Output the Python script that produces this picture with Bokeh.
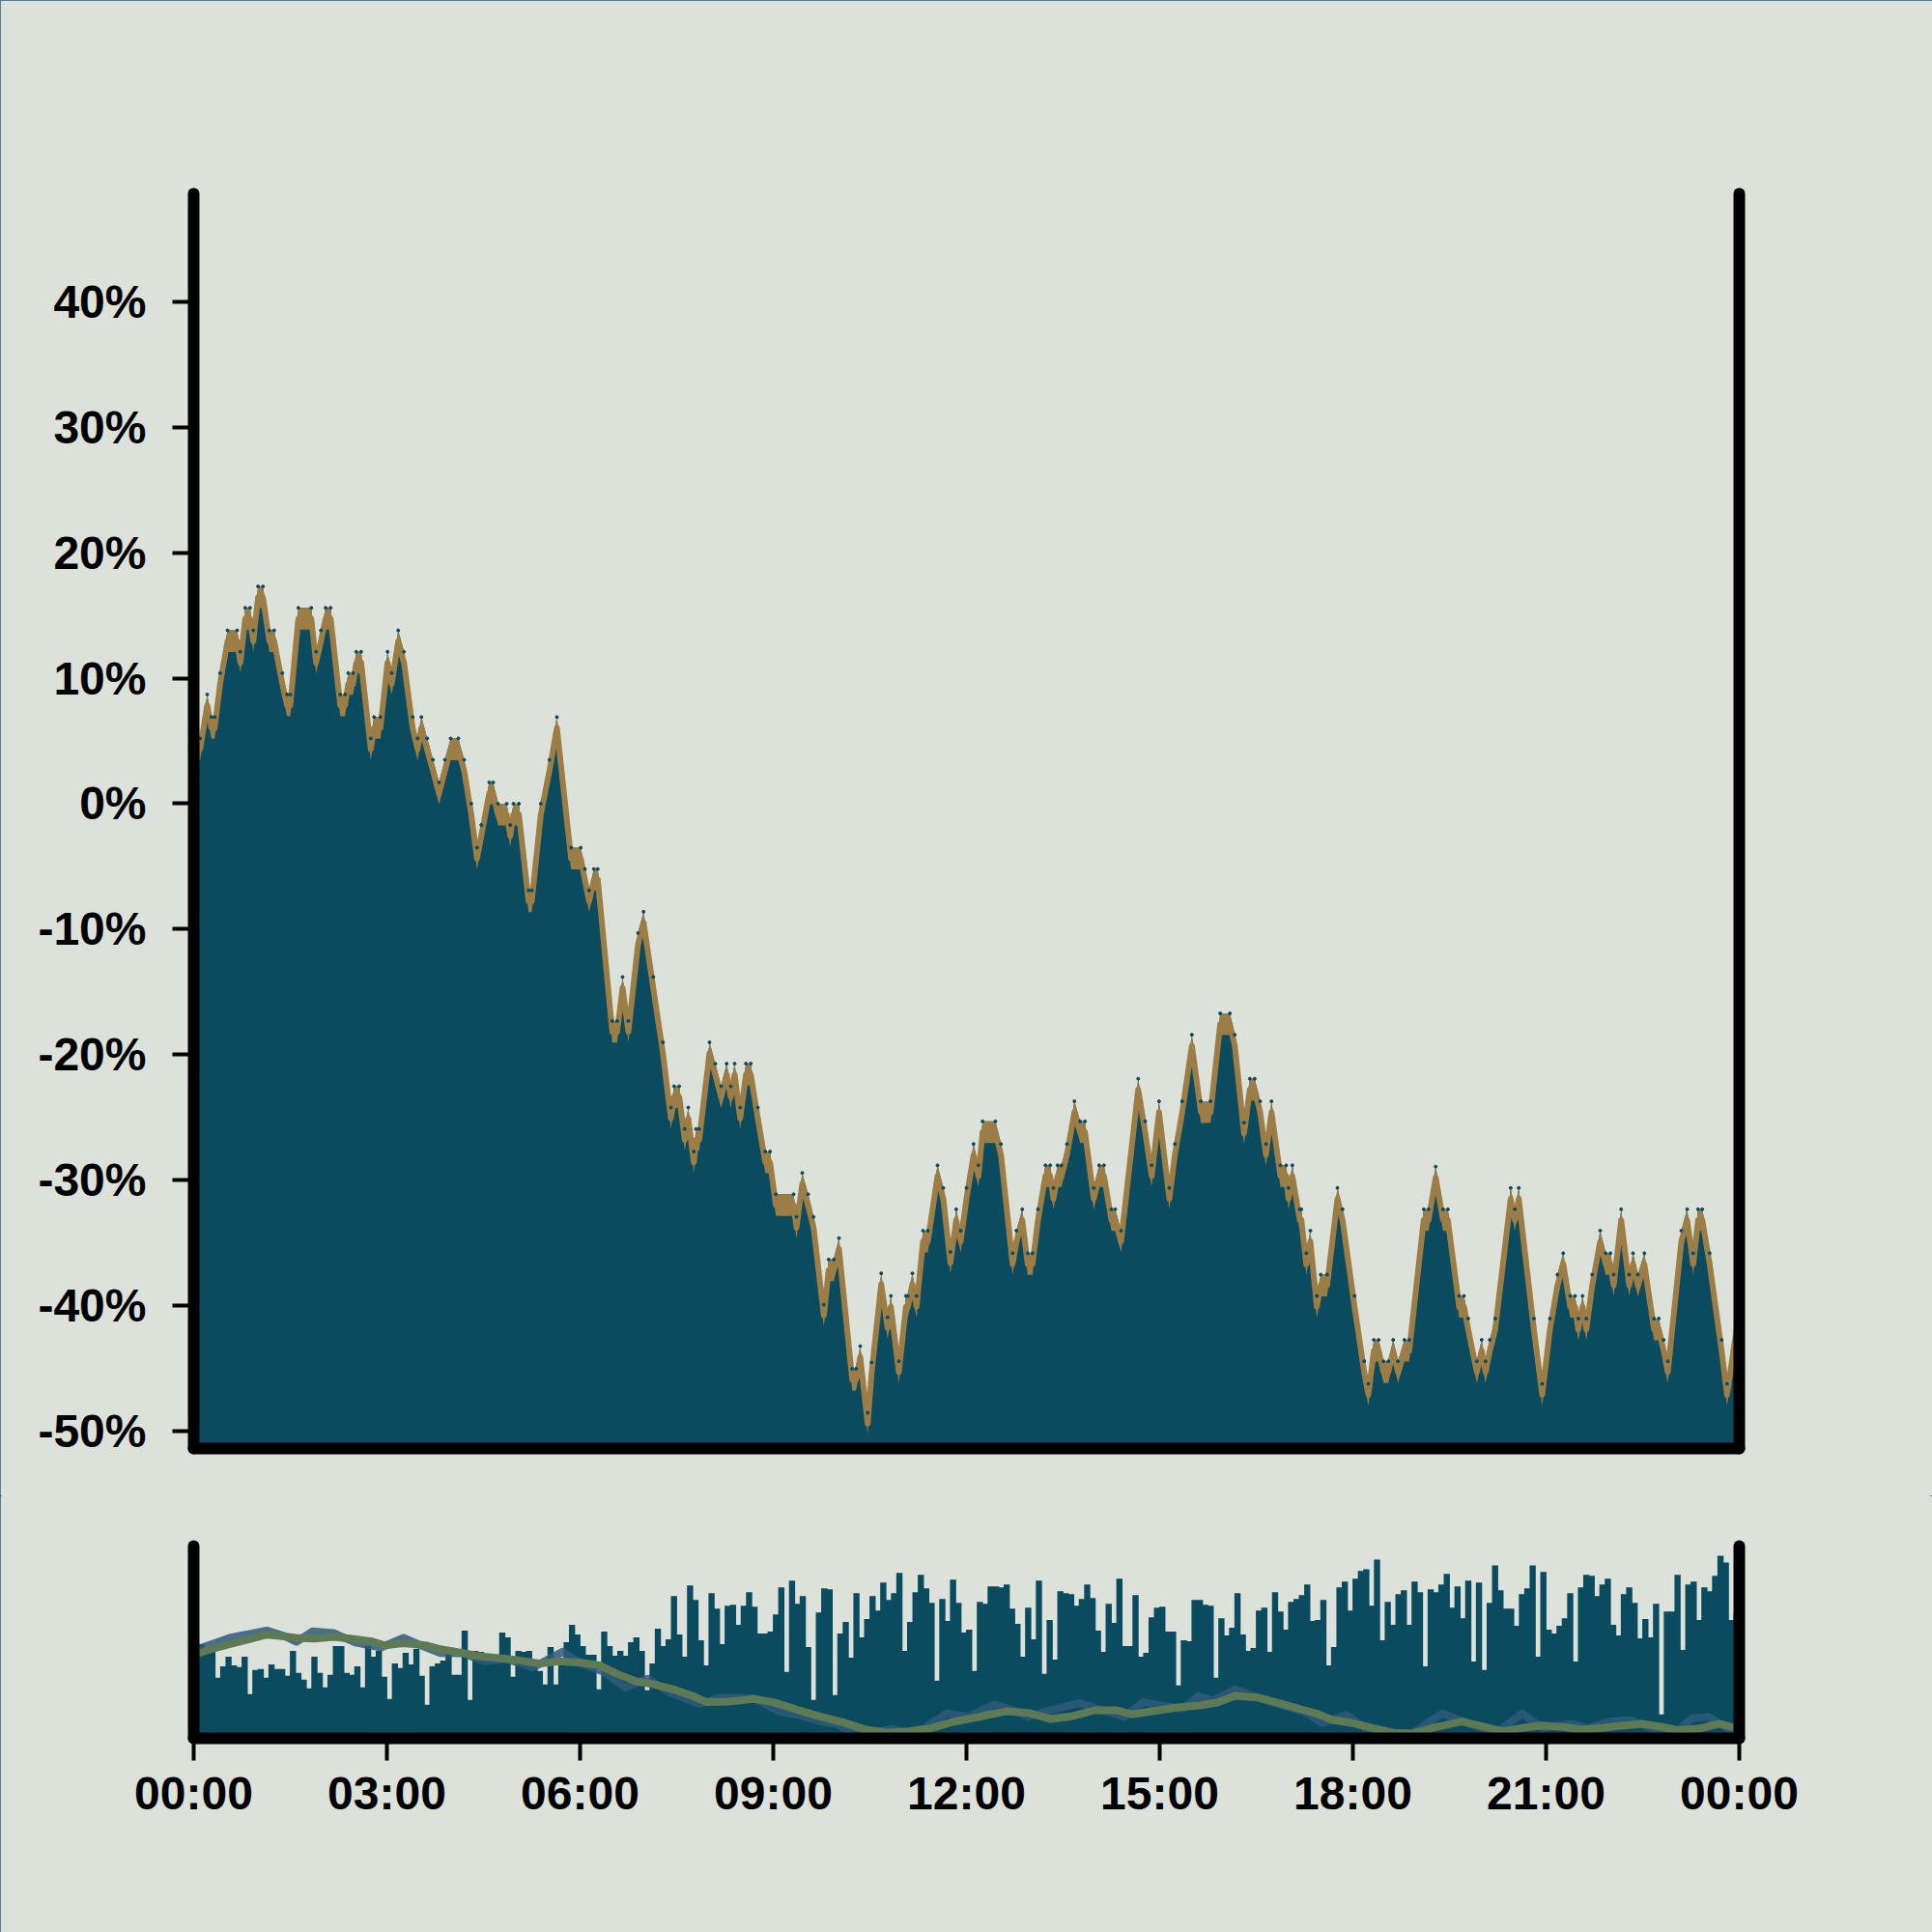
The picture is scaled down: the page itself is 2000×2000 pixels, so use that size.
from bokeh.plotting import figure
from bokeh.layouts import column
from bokeh.models import Range1d, LinearAxis, FixedTicker
from bokeh.embed import file_html
from bokeh.resources import INLINE

# ---------------- data ----------------
# main series: vertices of the polyline (time in hours, change in %)
price_t = [0, 0.1, 0.21, 0.275, 0.326, 0.41, 0.525, 0.675, 0.725, 0.8, 0.875, 0.926, 1.0, 1.076, 1.175, 1.25,
           1.376, 1.45, 1.5, 1.625, 1.826, 1.9, 1.976, 2.05, 2.126, 2.276, 2.35, 2.4, 2.475, 2.525, 2.6, 2.75,
           2.8, 2.9, 3.01, 3.075, 3.176, 3.266, 3.4, 3.476, 3.536, 3.626, 3.716, 3.81, 3.9, 3.99, 4.11, 4.2,
           4.31, 4.4, 4.466, 4.59, 4.65, 4.725, 4.86, 4.916, 4.965, 5.05, 5.2, 5.25, 5.39, 5.525, 5.64, 5.86,
           6.01, 6.075, 6.14, 6.215, 6.275, 6.5, 6.575, 6.66, 6.75, 6.9, 6.986, 7.136, 7.286, 7.41, 7.46, 7.54,
           7.625, 7.68, 7.766, 7.8, 7.85, 8.01, 8.1, 8.19, 8.276, 8.34, 8.4, 8.486, 8.576, 8.65, 8.76, 8.876,
           8.95, 9.04, 9.315, 9.36, 9.45, 9.54, 9.626, 9.785, 9.86, 9.94, 10.02, 10.226, 10.286, 10.35, 10.466,
           10.526, 10.676, 10.775, 10.826, 10.95, 11.06, 11.09, 11.16, 11.225, 11.325, 11.4, 11.55, 11.64,
           11.75, 11.84, 11.91, 12.0, 12.11, 12.185, 12.25, 12.45, 12.536, 12.716, 12.776, 12.866, 12.95,
           13.025, 13.11, 13.226, 13.3, 13.35, 13.415, 13.475, 13.56, 13.676, 13.766, 13.84, 13.976, 14.06,
           14.135, 14.25, 14.31, 14.4, 14.666, 14.775, 14.876, 14.99, 15.15, 15.236, 15.35, 15.5, 15.64, 15.79,
           15.94, 16.09, 16.166, 16.31, 16.4, 16.475, 16.56, 16.65, 16.736, 16.875, 16.965, 17.0, 17.06,
           17.175, 17.2, 17.276, 17.34, 17.44, 17.5, 17.6, 17.76, 17.84, 18.026, 18.176, 18.24, 18.326, 18.4,
           18.476, 18.55, 18.626, 18.7, 18.8, 18.875, 19.1, 19.175, 19.286, 19.4, 19.475, 19.65, 19.725, 19.79,
           19.925, 20.0, 20.06, 20.126, 20.21, 20.45, 20.516, 20.576, 20.81, 20.94, 21.06, 21.176, 21.266,
           21.375, 21.45, 21.5, 21.566, 21.626, 21.716, 21.84, 21.926, 22.0, 22.05, 22.166, 22.29, 22.35,
           22.425, 22.526, 22.676, 22.75, 22.826, 22.89, 23.1, 23.19, 23.285, 23.36, 23.426, 23.54, 23.726,
           23.81, 24.0]
price_v = [5.2, 5.2, 8.7, 6.9, 6.9, 10.4, 13.8, 13.8, 12.1, 15.6, 15.6, 13.8, 17.3, 17.3, 13.8, 13.8,
           10.4, 8.7, 8.7, 15.6, 15.6, 12.1, 13.8, 15.6, 15.6, 8.7, 8.7, 10.4, 10.4, 12.1, 12.1, 5.2,
           6.9, 6.9, 12.1, 10.4, 13.8, 12.1, 6.9, 5.2, 6.9, 5.2, 3.5, 1.7, 3.5, 5.2, 5.2, 3.5,
           0.0, -3.5, -1.7, 1.7, 1.7, 0.0, 0.0, -1.7, 0.0, 0.0, -6.9, -6.9, 0.0, 3.5, 6.9, -3.5,
           -3.5, -5.2, -6.9, -5.2, -5.2, -17.3, -17.3, -13.8, -17.3, -10.3, -8.6, -13.8, -19.0, -24.2, -22.5, -22.5,
           -25.9, -24.2, -27.7, -25.9, -25.9, -19.0, -20.7, -22.5, -20.7, -22.5, -20.7, -24.2, -20.7, -20.7, -24.2, -27.7,
           -27.7, -31.1, -31.1, -32.9, -29.4, -31.1, -32.9, -39.9, -36.3, -36.3, -34.6, -45.0, -45.0, -43.2, -48.5,
           -44.5, -37.4, -40.9, -39.2, -44.4, -39.2, -39.2, -37.4, -39.2, -34.0, -34.0, -28.8, -30.6,
           -35.7, -32.3, -34.0, -30.6, -27.1, -28.8, -25.3, -25.3, -27.1, -35.8, -34.0, -32.3, -35.8,
           -35.8, -32.3, -28.8, -28.8, -30.6, -28.8, -28.8, -27.1, -23.7, -25.3, -25.3, -30.6, -28.8,
           -28.8, -32.3, -32.3, -34.0, -21.9, -25.3, -28.8, -23.7, -30.6, -27.1, -23.7, -18.4, -23.7, -23.7,
           -16.7, -16.7, -18.4, -25.4, -21.9, -21.9, -23.7, -27.1, -23.7, -28.8, -28.8, -30.6, -28.8,
           -32.3, -32.3, -35.8, -34.0, -39.2, -37.5, -37.5, -30.6, -32.3, -39.2, -44.4, -46.2, -42.7, -42.7,
           -44.4, -44.4, -42.7, -44.4, -42.7, -42.7, -32.3, -32.3, -28.9, -32.3, -32.3, -39.2, -39.2, -41.0,
           -44.4, -42.7, -44.4, -42.7, -41.0, -30.6, -32.3, -30.6, -41.0, -46.2, -41.0, -37.5, -35.8,
           -39.2, -39.2, -41.0, -39.2, -41.0, -37.5, -34.0, -35.8, -35.8, -37.5, -32.3, -37.5, -35.8,
           -37.5, -35.8, -41.0, -41.0, -42.7, -44.4, -34.0, -32.3, -35.8, -32.3, -32.3, -35.8, -42.7,
           -46.2, -39.5]

# volume bars, one per 5-minute slot
vol_h = [98, 98, 93, 93, 63, 75, 85, 76, 74, 85,
         46, 71, 72, 63, 77, 72, 72, 65, 91, 68,
         61, 52, 85, 68, 53, 66, 96, 96, 68, 66,
         75, 53, 96, 85, 91, 64, 41, 78, 73, 89,
         77, 93, 65, 35, 75, 78, 81, 90, 66, 66,
         112, 40, 91, 90, 81, 86, 81, 110, 105, 64,
         91, 90, 91, 78, 70, 56, 95, 56, 76, 100,
         118, 108, 96, 87, 87, 51, 111, 96, 86, 91,
         86, 100, 105, 91, 50, 78, 114, 96, 103, 148,
         108, 85, 159, 144, 102, 76, 151, 135, 98, 138,
         139, 118, 138, 152, 137, 109, 109, 111, 129, 157,
         69, 164, 140, 148, 95, 40, 131, 156, 155, 45,
         109, 121, 84, 151, 105, 124, 148, 133, 162, 144,
         151, 172, 91, 121, 152, 170, 156, 141, 60, 145,
         122, 165, 141, 110, 113, 70, 142, 140, 158, 158,
         157, 160, 135, 119, 85, 136, 103, 164, 67, 123,
         82, 153, 151, 150, 138, 145, 160, 146, 112, 90,
         140, 120, 166, 96, 96, 149, 85, 89, 126, 136,
         137, 111, 111, 55, 102, 101, 144, 144, 139, 138,
         63, 125, 107, 115, 151, 108, 91, 94, 133, 136,
         90, 152, 132, 113, 142, 145, 149, 160, 122, 123,
         144, 76, 95, 157, 163, 133, 166, 174, 176, 138,
         186, 102, 142, 118, 150, 154, 118, 163, 152, 75,
         155, 152, 160, 171, 136, 158, 125, 164, 80, 162,
         71, 141, 180, 154, 135, 135, 117, 150, 156, 180,
         85, 173, 113, 109, 117, 125, 151, 80, 157, 170,
         169, 148, 160, 166, 118, 107, 150, 157, 141, 104,
         124, 105, 140, 25, 132, 132, 170, 92, 160, 163,
         123, 157, 153, 169, 190, 183, 123, 130]
slot_hours = 5 / 60
vol_t = [i * slot_hours for i in range(len(vol_h))]

# smoothed series in the lower panel (hours, %)
green_t = [0.09, 0.27, 0.555, 0.85, 1.135, 1.305, 1.59, 1.875, 2.17, 2.455, 2.745, 2.97, 3.255, 3.6, 3.83,
           4.18, 4.46, 4.75, 5.04, 5.385, 5.67, 6.015, 6.3, 6.585, 6.87, 7.16, 7.45, 7.74, 7.965, 8.31, 8.7,
           9.0, 9.4, 9.74, 10.09, 10.43, 10.78, 11.12, 11.46, 11.81, 12.15, 12.61, 12.96, 13.3, 13.65, 13.99,
           14.34, 14.565, 14.91, 15.255, 15.6, 15.885, 16.17, 16.515, 16.86, 17.25, 17.43, 17.685, 18.0,
           18.31, 18.615, 18.93, 19.29, 19.70, 20.01, 20.32, 20.63, 20.94, 21.25, 21.56, 21.87, 22.18,
           22.49, 22.8, 23.055, 23.37, 23.68, 23.89]
green_v = [4.45, 6.7, 9.6, 12.5, 15.3, 14.7, 13.4, 13.0, 14.0, 12.9, 11.5, 9.0, 10.2, 9.0, 6.7,
           4.4, 2.4, 1.4, 0.1, -1.8, -0.5, -1.3, -2.8, -8.1, -12.3, -14.2, -17.1, -20.9, -24.7, -24.3, -22.8,
           -24.7, -29.5, -33.3, -36.75, -40.9, -42.8, -41.9, -40.0, -36.2, -33.7, -30.1, -31.0, -34.6, -32.9, -29.5,
           -29.5, -31.9, -29.9, -27.9, -26.6, -25.1, -20.9, -21.9, -25.3, -29.5, -31.4, -35.2, -37.1,
           -40.0, -42.8, -43.2, -39.4, -36.2, -39.0, -41.9, -40.0, -38.5, -39.4, -40.9, -40.0, -38.6,
           -37.5, -39.4, -41.3, -40.4, -37.5, -39.4]
blue_t = [0.09, 0.56, 1.135, 1.42, 1.595, 1.85, 2.17, 2.51, 2.91, 3.26, 3.49, 3.83, 4.18, 4.52, 4.87, 5.27,
          5.73, 6.015, 6.36, 6.70, 7.05, 7.39, 7.85, 8.2, 8.71, 9.11, 9.40, 9.74, 9.97, 10.2, 10.55, 10.86,
          11.06, 11.35, 11.69, 12.04, 12.44, 12.73, 12.96, 13.3, 13.76, 14.11, 14.45, 14.74, 15.02, 15.37,
          15.6, 15.83, 16.17, 16.52, 16.81, 17.25, 17.53, 17.9, 18.2, 18.57, 18.93, 19.39, 19.81, 20.22,
          20.63, 20.94, 21.36, 21.67, 21.98, 22.29, 22.7, 23.01, 23.27, 23.52, 23.89]
blue_v = [7.1, 13.4, 17.8, 14.4, 11.1, 17.3, 16.3, 10.6, 7.7, 13.4, 9.6, 4.45, 4.3, -0.5, 0.7, -4.1,
          5.2, -1.8, -6.6, -16.1, -10.8, -19.0, -25.6, -21.9, -22.4, -30.5, -32.3, -36.2, -37.5, -41.9, -42.8, -40.4,
          -42.8, -40.0, -31.4, -33.3, -26.0, -29.5, -33.3, -29.5, -25.3, -29.5, -33.3, -24.7, -26.6, -28.5,
          -20.9, -23.8, -17.1, -21.9, -25.6, -30.5, -37.1, -32.3, -40.0, -44.8, -42.8, -31.4, -37.5, -42.8,
          -31.4, -40.0, -37.5, -40.0, -36.2, -35.2, -40.9, -42.8, -34.2, -33.3, -41.9]

# axis ticks
pct_ticks = [-50, -40, -30, -20, -10, 0, 10, 20, 30, 40]
pct_labels = ["-50%", "-40%", "-30%", "-20%", "-10%", "0%", "10%", "20%", "30%", "40%"]
hour_ticks = [0, 3, 6, 9, 12, 15, 18, 21, 24]
hour_labels = ["00:00", "03:00", "06:00", "09:00", "12:00", "15:00", "18:00", "21:00", "00:00"]

# ---------------- style ----------------
BG = "#dce1da"
TEAL = "#0a4b60"
GOLD = "#9b7d45"
GREEN = "#5e7a55"
BLUE = "#2f5b7b"
FONT = "Liberation Sans"
BAND = 1.73           # thickness of the gold band, in %
Y_MAIN = (-51.35, 48.58)


def style_axis(ax, with_ticks):
    ax.axis_line_width = 12
    ax.axis_line_color = "black"
    ax.axis_line_cap = "round"
    ax.minor_tick_line_color = None
    ax.major_label_text_font = FONT
    ax.major_label_text_font_style = "bold"
    ax.major_label_text_font_size = "48px"
    ax.major_label_text_color = "black"
    if with_ticks:
        ax.major_tick_in = 0
        ax.major_tick_out = 22
        ax.major_tick_line_width = 4
        ax.major_tick_line_color = "black"
    else:
        ax.ticker = FixedTicker(ticks=[])
        ax.major_tick_line_color = None
        ax.major_label_text_font_size = "0px"


# ---------------- main panel ----------------
p1 = figure(width=2000, height=1548, x_range=Range1d(0, 24), y_range=Range1d(*Y_MAIN),
            output_backend="svg", toolbar_location=None,
            min_border_left=200, min_border_right=200, min_border_top=200, min_border_bottom=49,
            background_fill_color=None, border_fill_color=BG, outline_line_color=None)
p1.grid.visible = False

lower = [v - BAND for v in price_v]
middle = [v - BAND / 2 for v in price_v]
p1.varea(x=price_t, y1=Y_MAIN[0], y2=price_v, fill_color=TEAL)
p1.varea(x=price_t, y1=lower, y2=price_v, fill_color=GOLD)
p1.line(x=price_t, y=middle, line_color=GOLD, line_width=6, line_join="round")
p1.scatter(x=price_t, y=price_v, size=3, color=TEAL)

style_axis(p1.xaxis[0], False)
style_axis(p1.yaxis[0], True)
p1.yaxis[0].ticker = FixedTicker(ticks=pct_ticks)
p1.yaxis[0].major_label_overrides = {t: lab for t, lab in zip(pct_ticks, pct_labels)}
p1.yaxis[0].major_label_standoff = 27
right1 = LinearAxis()
style_axis(right1, False)
p1.add_layout(right1, "right")

# ---------------- lower panel ----------------
p2 = figure(width=2000, height=452, x_range=p1.x_range, y_range=Range1d(0, 200),
            output_backend="svg", toolbar_location=None,
            min_border_left=200, min_border_right=200, min_border_top=52, min_border_bottom=201,
            background_fill_color=None, border_fill_color=BG, outline_line_color=None)
p2.grid.visible = False
p2.extra_y_ranges = {"ma": Range1d(-46.1, 67.8)}

p2.vbar(x=[t + slot_hours / 2 for t in vol_t], top=vol_h, bottom=0, width=slot_hours * 1.15,
        fill_color=TEAL, line_color=None)
p2.line(blue_t, blue_v, y_range_name="ma", line_color=BLUE, line_width=8, line_alpha=0.85,
        line_join="round", line_cap="round")
p2.line(green_t, green_v, y_range_name="ma", line_color=GREEN, line_width=8,
        line_join="round", line_cap="round")

style_axis(p2.xaxis[0], True)
p2.xaxis[0].ticker = FixedTicker(ticks=hour_ticks)
p2.xaxis[0].major_label_overrides = {t: lab for t, lab in zip(hour_ticks, hour_labels)}
p2.xaxis[0].major_tick_out = 23
p2.xaxis[0].major_label_standoff = 7
style_axis(p2.yaxis[0], False)
right2 = LinearAxis()
style_axis(right2, False)
p2.add_layout(right2, "right")

layout = column(p1, p2, spacing=0)
layout.styles = {"background-color": BG, "outline": "2px solid #2f5b7b", "outline-offset": "-2px"}
open("out.html", "w").write(file_html(layout, INLINE))
